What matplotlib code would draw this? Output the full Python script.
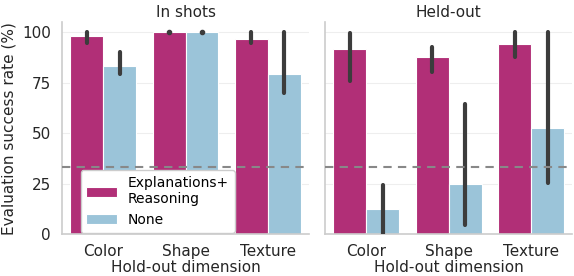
import matplotlib
matplotlib.use('Agg')
import matplotlib.pyplot as plt
import numpy as np

# data
dims = ['Color', 'Shape', 'Texture']
methods = ['Explanations+\nReasoning', 'None']
colors = ['#b12f77', '#9bc4d9']

inshot_mean = {
    'expl': [98, 100, 96.5],
    'none': [83, 100, 79.5],
}
inshot_lo = {
    'expl': [94.5, 100, 94.5],
    'none': [79.5, 100, 70],
}
inshot_hi = {
    'expl': [100, 100, 100],
    'none': [90, 100, 100],
}

heldout_mean = {
    'expl': [91.5, 87.5, 94],
    'none': [12.5, 25, 52.5],
}
heldout_lo = {
    'expl': [76, 80.5, 87.5],
    'none': [0, 4.5, 25.5],
}
heldout_hi = {
    'expl': [99.5, 92.5, 100],
    'none': [24.5, 64.5, 100],
}

chance = 100 / 3

plt.rcParams['font.family'] = ['DejaVu Sans']
plt.rcParams['font.size'] = 11

fig, axes = plt.subplots(1, 2, figsize=(5.74, 2.76), dpi=100, sharey=True)
fig.subplots_adjust(left=0.108, right=0.997, bottom=0.152, top=0.92, wspace=0.065)

panels = [
    ('In shots', inshot_mean, inshot_lo, inshot_hi),
    ('Held-out', heldout_mean, heldout_lo, heldout_hi),
]

err_color = '#3c3c3c'
x = np.arange(len(dims))
width = 0.4
for ax, (title, mean, lo, hi) in zip(axes, panels):
    for i, key in enumerate(['expl', 'none']):
        offs = x + (i - 0.5) * width
        ax.bar(offs, mean[key], width=width, color=colors[i], edgecolor='white',
               linewidth=0.8, label=methods[i], zorder=2)
        for xo, l, h in zip(offs, lo[key], hi[key]):
            if h - l < 0.1:
                # zero-width interval shows up as a dot
                ax.plot([xo], [h], 'o', ms=3, color=err_color, zorder=3)
            else:
                ax.plot([xo, xo], [l, h], color=err_color, lw=3,
                        solid_capstyle='round', zorder=3)
    ax.axhline(chance, color='#888888', lw=1.5, ls=(0, (4, 3)), zorder=4)
    ax.set_title(title, fontsize=11, pad=4, color='#262626')
    ax.set_xticks(x)
    ax.set_xticklabels(dims)
    ax.set_xlim(-0.5, 2.5)
    ax.set_ylim(0, 105)
    ax.set_yticks([0, 25, 50, 75, 100])
    ax.set_xlabel('Hold-out dimension', labelpad=1, color='#262626')
    ax.grid(axis='y', color='#eeeeee', lw=0.8, zorder=0)
    ax.set_axisbelow(True)
    ax.tick_params(axis='x', length=0, pad=7, colors='#262626')
    ax.tick_params(axis='y', length=0, pad=8, colors='#262626')
    for s in ['top', 'right']:
        ax.spines[s].set_visible(False)
    for s in ['left', 'bottom']:
        ax.spines[s].set_color('#cccccc')
        ax.spines[s].set_linewidth(1.2)

axes[0].set_ylabel('Evaluation success rate (%)', color='#262626')
axes[1].tick_params(labelleft=False)

leg = axes[0].legend(loc='lower left', bbox_to_anchor=(0.07, 0.0),
                     borderaxespad=0.1, framealpha=1, edgecolor='#cccccc',
                     fontsize=10, handlelength=2.2, labelspacing=0.5)
leg.set_zorder(5)

fig.savefig('out.png', dpi=100)
